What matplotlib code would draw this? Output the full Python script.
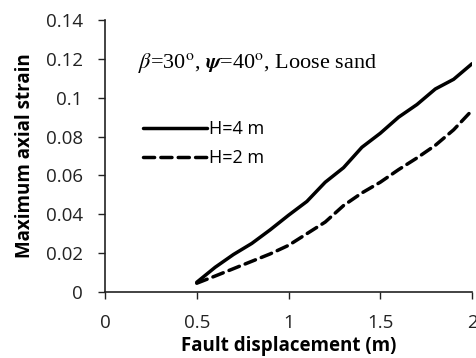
import matplotlib
matplotlib.use("Agg")
import matplotlib.pyplot as plt

# data
disp = [0.5, 0.6, 0.7, 0.8, 0.9, 1.0, 1.1, 1.2, 1.3, 1.4, 1.5, 1.6, 1.7, 1.8, 1.9, 2.0]
strain_h4 = [0.005, 0.0127, 0.0193, 0.025, 0.032, 0.0395, 0.0466, 0.0565,
             0.064, 0.0745, 0.0817, 0.090, 0.0965, 0.1045, 0.1095, 0.1175]
strain_h2 = [0.0045, 0.0082, 0.012, 0.0158, 0.0196, 0.024, 0.030, 0.036,
             0.0445, 0.051, 0.0565, 0.063, 0.069, 0.0755, 0.0835, 0.0935]
xticks = [0, 0.5, 1, 1.5, 2]
xtick_labels = ['0', '0.5', '1', '1.5', '2']
yticks = [0, 0.02, 0.04, 0.06, 0.08, 0.1, 0.12, 0.14]
ytick_labels = ['0', '0.02', '0.04', '0.06', '0.08', '0.1', '0.12', '0.14']

plt.rcParams['font.family'] = ['Open Sans', 'DejaVu Sans']
plt.rcParams['mathtext.fontset'] = 'stix'

fig = plt.figure(figsize=(4.76, 3.58), dpi=100)
ax = fig.add_axes([0.2206, 0.1844, 0.7710, 0.7596])

ax.plot(disp, strain_h4, color='black', lw=2.5, solid_capstyle='round', label='H=4 m')
ax.plot(disp, strain_h2, color='black', lw=2.5, ls=(0, (3.2, 1.8)),
        dash_capstyle='round', label='H=2 m')

ax.set_xlim(0, 2)
ax.set_ylim(0, 0.14)
ax.set_xticks(xticks)
ax.set_xticklabels(xtick_labels)
ax.set_yticks(yticks)
ax.set_yticklabels(ytick_labels)
ax.tick_params(labelsize=13.5, length=5, width=1, colors='#222222')
ax.xaxis.set_tick_params(pad=11)
ax.yaxis.set_tick_params(pad=11)

for s in ['top', 'right']:
    ax.spines[s].set_visible(False)
for s in ['left', 'bottom']:
    ax.spines[s].set_linewidth(1.2)
    ax.spines[s].set_color('#222222')

ax.set_xlabel('Fault displacement (m)', fontsize=13.5, fontweight='bold', labelpad=3)
ax.set_ylabel('Maximum axial strain', fontsize=13.5, fontweight='bold', labelpad=8)

ax.text(0.09, 0.842, r'$\beta$=30$^{\rm o}$, $\boldsymbol{\psi}$=40$^{\rm o}$, Loose sand',
        transform=ax.transAxes, fontsize=16, family='Liberation Serif', va='center')

ax.legend(loc='upper left', bbox_to_anchor=(0.08, 0.665), frameon=False, fontsize=13,
          handlelength=3.5, handletextpad=0.15, labelspacing=0.6, borderpad=0)

fig.savefig('out.png', dpi=100)
